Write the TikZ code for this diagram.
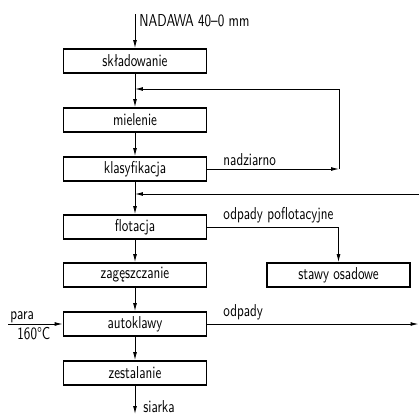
\documentclass[tikz,border=0pt]{standalone}
\usepackage{fontspec}
\newfontfamily\cadfont[FakeStretch=0.76]{Latin Modern Sans}
\usepackage{tikz}
\usetikzlibrary{positioning, calc}
\usetikzlibrary{arrows.meta}

\begin{document}
\begin{tikzpicture}[x=0.02cm,y=-0.02cm,line width=0.5pt,>={Latex[length=4.5pt,width=2.2pt]}]
	\def \colmain{135}
	\def \colside{338.5}
	\tikzstyle{p-node}=[draw,line width=1pt,minimum width=2.86cm,minimum height=0.48cm,inner sep=0pt,font=\cadfont\fontsize{9.8}{11}\selectfont]
	\tikzstyle{annot}=[anchor=base west,inner sep=0pt,font=\cadfont\fontsize{9.8}{11}\selectfont]
	\useasboundingbox (0,0) rectangle (419,416);

	% process boxes
	\node[p-node] 	(skl)	at (\colmain,61)	{składowanie};
	\node[p-node] 	(miel)	at (\colmain,120)	{mielenie};
	\node[p-node] 	(klas)	at (\colmain,169)	{klasyfikacja};
	\node[p-node] 	(flot)	at (\colmain,227)	{flotacja};
	\node[p-node] 	(zag)	at (\colmain,275)	{zagęszczanie};
	\node[p-node] 	(auto)	at (\colmain,324)	{autoklawy};
	\node[p-node] 	(zest)	at (\colmain,373)	{zestalanie};
	\node[p-node] 	(stawy)	at (\colside,275)	{stawy osadowe};

	% loose ends
	\coordinate (feed)	at (\colmain,14);
	\coordinate (fbr)	at (339,169);
	\coordinate (fbj)	at (\colmain,89);
	\coordinate (wout)	at (418.5,324);
	\coordinate (wret)	at (419,194);
	\coordinate (wj)	at (\colmain,194);
	\coordinate (steam)	at (8,324);
	\coordinate (sulf)	at (\colmain,414);

	% labels
	\node[annot] (nadawa)	at (139,26)	{NADAWA 40–0 mm};
	\node[annot] (nadz)	at (223,165)	{nadziarno};
	\node[annot] (odpflot)	at (223,219)	{odpady poflotacyjne};
	\node[annot] (odp)	at (223,316)	{odpady};
	\node[annot] (para)	at (10,319)	{para};
	\node[annot] (temp)	at (17,339)	{160\textdegree{}C};
	\node[annot] (siarka)	at (143,412.5)	{siarka};

	\draw[->] (feed) -- (skl);
	\draw[->] (skl) -- (miel);
	\draw[->] (miel) -- (klas);
	\draw[->] (klas) -- (flot);
	\draw[->] (flot) -- (zag);
	\draw[->] (zag) -- (auto);
	\draw[->] (auto) -- (zest);
	\draw[->] (zest) -- (sulf);
	%
	\draw[->] (klas.east) -- (fbr);
	\draw[->] (fbr) |- (fbj);
	\draw[->] (flot.east) -| (stawy.north);
	\draw[->] (auto.east) -- (wout);
	\draw[->] (wret) -- (wj);
	\draw[->] (steam) -- (auto.west);
\end{tikzpicture}
\end{document}
